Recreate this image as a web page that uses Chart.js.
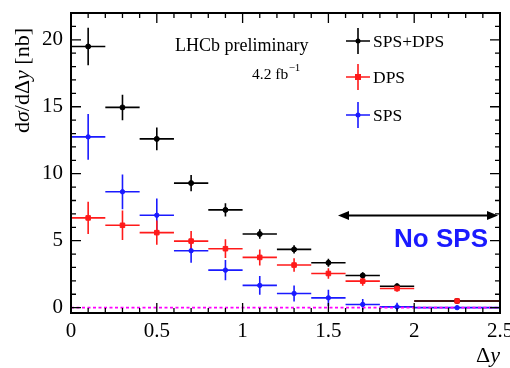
<!DOCTYPE html>
<html>
<head>
<meta charset="utf-8">
<script src="https://cdn.jsdelivr.net/npm/chart.js@4/dist/chart.umd.min.js"></script>
<style>
html,body{margin:0;padding:0;background:#fff;}
#wrap{width:510px;height:368px;}
</style>
</head>
<body>
<div id="wrap"><canvas id="c" width="510" height="368"></canvas></div>
<script>
// ---- data ----
const binCenters = [0.1, 0.3, 0.5, 0.7, 0.9, 1.1, 1.3, 1.5, 1.7, 1.9, 2.25];
const binLow     = [0.0, 0.2, 0.4, 0.6, 0.8, 1.0, 1.2, 1.4, 1.6, 1.8, 2.0];
const binHigh    = [0.2, 0.4, 0.6, 0.8, 1.0, 1.2, 1.4, 1.6, 1.8, 2.0, 2.5];
const spsDps     = [19.5, 14.95, 12.6, 9.3, 7.3, 5.5, 4.35, 3.35, 2.4, 1.6, 0.5];
const spsDpsErr  = [1.4, 0.95, 0.85, 0.6, 0.5, 0.35, 0.3, 0.3, 0.25, 0.2, 0.08];
const dps        = [6.7, 6.15, 5.6, 4.97, 4.4, 3.75, 3.18, 2.55, 1.98, 1.43, 0.5];
const dpsErr     = [1.2, 1.1, 0.9, 0.75, 0.7, 0.6, 0.5, 0.4, 0.35, 0.25, 0.1];
const sps        = [12.75, 8.65, 6.9, 4.25, 2.8, 1.66, 1.06, 0.73, 0.24, 0.06, 0.0];
const spsErr     = [1.7, 1.3, 1.25, 0.9, 0.75, 0.7, 0.6, 0.6, 0.4, 0.3, 0.1];
const seriesLabels = ['SPS+DPS', 'DPS', 'SPS'];
const xTickLabels = ['0', '0.5', '1', '1.5', '2', '2.5'];
const yTickLabels = ['0', '5', '10', '15', '20'];

const SERIF = '"Liberation Serif", "DejaVu Serif", serif';
const SANS = '"Liberation Sans", Arial, sans-serif';

function pts(vals){ return binCenters.map((x,i)=>({x:x, y:vals[i]})); }

const colors = ['#000000', '#ff1a1a', '#1a1aff'];

const datasets = [
  {label: seriesLabels[0], data: pts(spsDps), err: spsDpsErr, backgroundColor: colors[0], borderColor: colors[0], pointRadius: 2.5, pointStyle: 'circle', showLine:false, order: 3},
  {label: seriesLabels[1], data: pts(dps), err: dpsErr, backgroundColor: colors[1], borderColor: colors[1], pointRadius: 3.2, pointStyle: 'rect', showLine:false, order: 2},
  {label: seriesLabels[2], data: pts(sps), err: spsErr, backgroundColor: colors[2], borderColor: colors[2], pointRadius: 2.2, pointStyle: 'circle', showLine:false, order: 1},
  {label: 'zero', data: [{x:0,y:0},{x:2.5,y:0}], showLine:true, borderColor:'#ff00ff', borderWidth:1.6, borderDash:[3,2.5], pointRadius:0, order: 4}
];

const errorBars = {
  id: 'errorBars',
  beforeDatasetsDraw(chart){
    const ctx = chart.ctx, xs = chart.scales.x, ys = chart.scales.y;
    ctx.save();
    for (let d = 3; d >= 0; d--) {
      const ds = chart.data.datasets[d];
      if (!ds.err) continue;
      ctx.strokeStyle = ds.borderColor;
      ctx.lineWidth = 1.6;
      ds.data.forEach((p,i)=>{
        const px = xs.getPixelForValue(p.x), py = ys.getPixelForValue(p.y);
        const xl = xs.getPixelForValue(binLow[i]), xh = xs.getPixelForValue(binHigh[i]);
        const yl = ys.getPixelForValue(p.y - ds.err[i]), yh = ys.getPixelForValue(p.y + ds.err[i]);
        ctx.beginPath();
        ctx.moveTo(xl, py); ctx.lineTo(xh, py);
        ctx.moveTo(px, yl); ctx.lineTo(px, yh);
        ctx.stroke();
      });
    }
    ctx.restore();
  }
};

const frame = {
  id: 'frame',
  afterDraw(chart){
    const ctx = chart.ctx, xs = chart.scales.x, ys = chart.scales.y, a = chart.chartArea;
    ctx.save();
    ctx.strokeStyle = '#000';
    ctx.lineWidth = 2;
    ctx.strokeRect(a.left, a.top, a.right - a.left, a.bottom - a.top);
    ctx.lineWidth = 1.3;
    ctx.beginPath();
    for (let k = 0; k <= 25; k++) {
      const v = k / 10;
      const px = xs.getPixelForValue(v);
      const len = (k % 5 === 0) ? 10 : 5;
      ctx.moveTo(px, a.bottom); ctx.lineTo(px, a.bottom - len);
      ctx.moveTo(px, a.top); ctx.lineTo(px, a.top + len);
    }
    for (let v = 0; v <= 22; v++) {
      const py = ys.getPixelForValue(v);
      const len = (v % 5 === 0) ? 10 : 5;
      ctx.moveTo(a.left, py); ctx.lineTo(a.left + len, py);
      ctx.moveTo(a.right, py); ctx.lineTo(a.right - len, py);
    }
    ctx.stroke();

    // x tick labels
    ctx.fillStyle = '#000';
    ctx.font = '21px ' + SERIF;
    ctx.textAlign = 'center';
    ctx.textBaseline = 'top';
    xTickLabels.forEach(t=>{
      ctx.fillText(t, xs.getPixelForValue(parseFloat(t)), a.bottom + 8);
    });

    // x title  Δy
    ctx.textBaseline = 'alphabetic';
    ctx.textAlign = 'left';
    ctx.font = '22px ' + SERIF;
    let xx = 476;
    ctx.fillText('Δ', xx, 362); xx += ctx.measureText('Δ').width;
    ctx.font = 'italic 22px ' + SERIF;
    ctx.fillText('y', xx, 362);

    // y title dσ/dΔy [nb]
    ctx.save();
    ctx.translate(29, 133);
    ctx.rotate(-Math.PI/2);
    const parts = [['d',''],['σ','italic '],['/dΔ',''],['y','italic '],[' [nb]','']];
    let off = 0;
    parts.forEach(([s,st])=>{
      ctx.font = st + '22px ' + SERIF;
      ctx.fillText(s, off, 0);
      off += ctx.measureText(s).width;
    });
    ctx.restore();

    // texts
    ctx.font = '18px ' + SERIF;
    ctx.fillText('LHCb preliminary', 175, 51);
    ctx.font = '15.5px ' + SERIF;
    ctx.fillText('4.2 fb', 252, 79);
    const w = ctx.measureText('4.2 fb').width;
    ctx.font = '11px ' + SERIF;
    ctx.fillText('−1', 252 + w + 0.5, 71);

    // legend
    chart.data.datasets.slice(0,3).forEach((ds,i)=>{
      const cy = [41, 77, 115][i], cx = 358;
      ctx.strokeStyle = ds.borderColor; ctx.fillStyle = ds.borderColor;
      ctx.lineWidth = 1.6;
      ctx.beginPath();
      ctx.moveTo(cx - 12, cy); ctx.lineTo(cx + 12, cy);
      ctx.moveTo(cx, cy - 13); ctx.lineTo(cx, cy + 13);
      ctx.stroke();
      ctx.beginPath();
      if (i === 1) ctx.rect(cx-3, cy-3, 6, 6); else ctx.arc(cx, cy, 2.5, 0, Math.PI*2);
      ctx.fill();
      ctx.fillStyle = '#000';
      ctx.font = '17.5px ' + SERIF;
      ctx.textBaseline = 'middle';
      ctx.fillText(ds.label, 373, cy + 1);
    });

    // arrow
    const ay = 215.5, ax1 = 338, ax2 = 498;
    ctx.strokeStyle = '#000'; ctx.fillStyle = '#000'; ctx.lineWidth = 2;
    ctx.beginPath(); ctx.moveTo(ax1 + 6, ay); ctx.lineTo(ax2 - 6, ay); ctx.stroke();
    ctx.beginPath(); ctx.moveTo(ax1, ay); ctx.lineTo(ax1 + 11, ay - 4.5); ctx.lineTo(ax1 + 11, ay + 4.5); ctx.closePath(); ctx.fill();
    ctx.beginPath(); ctx.moveTo(ax2, ay); ctx.lineTo(ax2 - 11, ay - 4.5); ctx.lineTo(ax2 - 11, ay + 4.5); ctx.closePath(); ctx.fill();

    // No SPS
    ctx.fillStyle = '#1a1aff';
    ctx.font = 'bold 26px ' + SANS;
    ctx.textAlign = 'right';
    ctx.textBaseline = 'middle';
    ctx.fillText('No SPS', 488, 240);
    ctx.restore();
  }
};

new Chart(document.getElementById('c'), {
  type: 'scatter',
  data: { datasets },
  options: {
    responsive: false,
    animation: false,
    events: [],
    layout: { padding: { top: 13, right: 10, left: 0, bottom: 0 } },
    plugins: { legend: { display: false }, tooltip: { enabled: false } },
    scales: {
      x: {
        type: 'linear', min: 0, max: 2.5,
        grid: { display: false, drawTicks: false }, border: { display: false },
        ticks: { display: false, stepSize: 0.5 },
        afterFit(s){ s.height = 55; s.paddingLeft = 0; s.paddingRight = 0; }
      },
      y: {
        type: 'linear', min: -0.4, max: 22,
        grid: { display: false, drawTicks: false }, border: { display: false },
        ticks: {
          stepSize: 5, includeBounds: false, padding: 8, color: '#000',
          font: { family: SERIF, size: 21 },
          callback: (v)=> yTickLabels.includes(String(v)) ? String(v) : ''
        },
        afterFit(s){ s.width = 71; s.paddingTop = 0; s.paddingBottom = 0; }
      }
    }
  },
  plugins: [errorBars, frame]
});
</script>
</body>
</html>
